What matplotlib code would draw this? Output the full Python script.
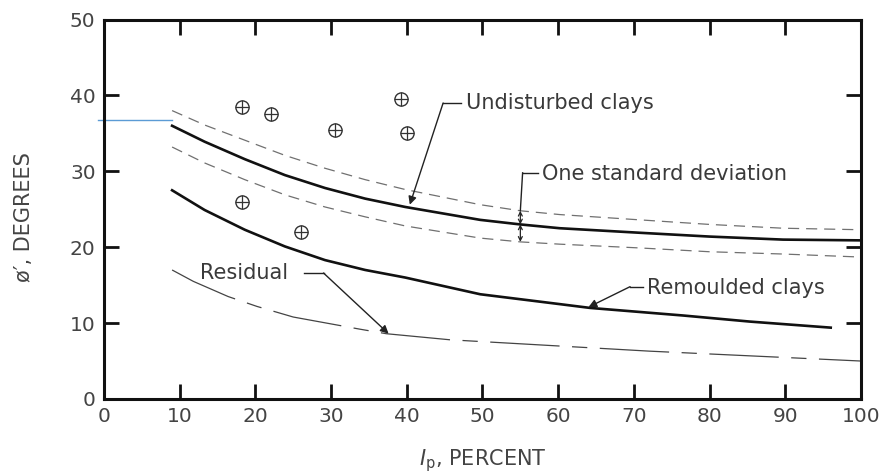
import matplotlib
matplotlib.use("Agg")
import matplotlib.pyplot as plt

# friction angle vs plasticity index
undist_x = [9, 13.3, 18.6, 23.9, 29.2, 34.5, 39.8, 49.7, 55, 60.2, 70.8, 80, 89.7, 100]
undist_y = [36.0, 33.9, 31.6, 29.5, 27.8, 26.4, 25.3, 23.6, 23.0, 22.5, 21.9, 21.4, 21.0, 20.9]
upper_sd_y = [38.0, 36.1, 34.1, 32.1, 30.4, 28.9, 27.6, 25.6, 24.8, 24.3, 23.6, 23.0, 22.5, 22.3]
lower_sd_y = [33.2, 31.1, 28.9, 26.9, 25.3, 24.0, 22.8, 21.2, 20.7, 20.4, 19.9, 19.4, 19.1, 18.7]

remould_x = [9, 13.3, 18.6, 23.9, 29.2, 34.5, 39.8, 49.7, 60.2, 64.2, 76.5, 85.3, 96]
remould_y = [27.5, 24.9, 22.3, 20.1, 18.3, 17.0, 16.0, 13.8, 12.5, 12.0, 11.0, 10.2, 9.4]

resid_x = [9, 11.8, 16.4, 20.2, 25.0, 29.4, 33.8, 37.3, 45.7, 72.1, 100]
resid_y = [17.0, 15.5, 13.5, 12.2, 10.8, 10.0, 9.2, 8.6, 7.8, 6.3, 5.0]

test_x = [18.3, 22.0, 30.5, 39.3, 40.0, 18.3, 26.0]
test_y = [38.5, 37.5, 35.5, 39.5, 35.1, 26.0, 22.0]

x_ticks = list(range(0, 101, 10))
y_ticks = list(range(0, 51, 10))

plt.rcParams["font.family"] = ["DejaVu Sans"]
plt.rcParams["lines.scale_dashes"] = False

TXT = "#3a3a3a"
INK = "#222222"

fig = plt.figure(figsize=(8.87, 4.76), dpi=100)
ax = fig.add_axes([0.1172, 0.1618, 0.8535, 0.7972])

ax.plot(undist_x, undist_y, color="#111111", lw=1.9, solid_joinstyle="round")
ax.plot(undist_x, upper_sd_y, color="#707070", lw=0.9, dashes=(8, 5))
ax.plot(undist_x, lower_sd_y, color="#707070", lw=0.9, dashes=(8, 5))
ax.plot(remould_x, remould_y, color="#111111", lw=1.9, solid_joinstyle="round")
ax.plot(resid_x, resid_y, color="#444444", lw=0.9, dashes=(50, 9, 11, 9))

ax.plot(test_x, test_y, ls="none", marker="o", ms=9.5, mfc="white",
        mec="#333333", mew=1.0)
ax.plot(test_x, test_y, ls="none", marker="+", ms=9.5, mec="#333333", mew=0.9)

# the stray blue line at the left edge
ax.plot([-0.8, 9], [36.75, 36.75], color="#5b9bd5", lw=1.0, clip_on=False)

arrow = dict(arrowstyle="-|>", color=INK, lw=1.0,
             mutation_scale=12, shrinkA=0, shrinkB=0)

# Undisturbed clays
ax.plot([44.8, 47.2], [39.0, 39.0], color=INK, lw=1.0)
ax.annotate("", xy=(40.4, 25.6), xytext=(44.8, 39.0), arrowprops=arrow)
ax.text(47.8, 39.0, "Undisturbed clays", fontsize=15, color=TXT,
        ha="left", va="center")

# One standard deviation
ax.plot([55.3, 57.3], [29.8, 29.8], color=INK, lw=1.0)
ax.plot([55.3, 55.0], [29.8, 24.8], color=INK, lw=1.0)
sd_arrow = dict(arrowstyle="<->", color=INK, lw=0.9,
                mutation_scale=7, shrinkA=0, shrinkB=0)
ax.annotate("", xy=(55.0, 24.8), xytext=(55.0, 23.0), arrowprops=sd_arrow)
ax.annotate("", xy=(55.0, 23.0), xytext=(55.0, 20.7), arrowprops=sd_arrow)
ax.text(57.8, 29.6, "One standard deviation", fontsize=15, color=TXT,
        ha="left", va="center")

# Remoulded clays
ax.plot([69.5, 71.2], [14.8, 14.8], color=INK, lw=1.0)
ax.annotate("", xy=(64.0, 12.1), xytext=(69.5, 14.8), arrowprops=arrow)
ax.text(71.7, 14.6, "Remoulded clays", fontsize=15, color=TXT,
        ha="left", va="center")

# Residual
ax.text(12.7, 16.6, "Residual", fontsize=15, color=TXT,
        ha="left", va="center")
ax.plot([26.4, 29.0], [16.6, 16.6], color=INK, lw=1.0)
ax.annotate("", xy=(37.6, 8.6), xytext=(29.0, 16.6), arrowprops=arrow)

ax.set_xlim(0, 100)
ax.set_ylim(0, 50)
ax.set_xticks(x_ticks)
ax.set_yticks(y_ticks)
ax.tick_params(direction="in", length=11, width=2.0, color="#111111",
               labelsize=14.5, labelcolor="#444444", pad=6,
               top=True, right=True)
for spine in ax.spines.values():
    spine.set_linewidth(2.2)
    spine.set_color("#111111")

ax.set_xlabel(r"$I_{\rm p}$, PERCENT", fontsize=15, color="#444444")
ax.set_ylabel("ø′, DEGREES", fontsize=15, color="#444444")
ax.xaxis.set_label_coords(0.5, -0.128)
ax.yaxis.set_label_coords(-0.092, 0.48)

fig.savefig("out.png", dpi=100)
